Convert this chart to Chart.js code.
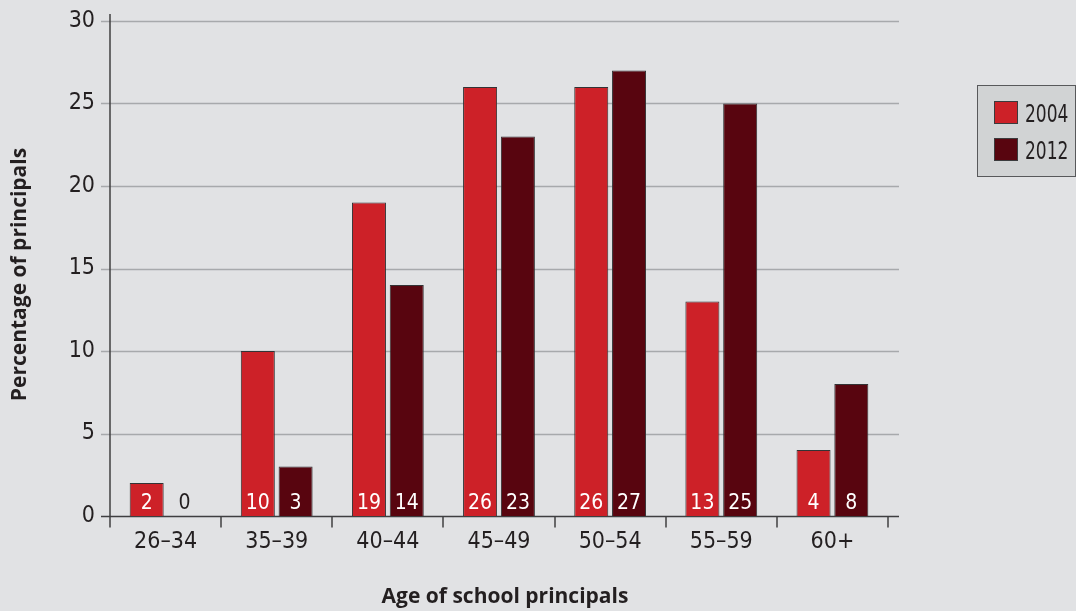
<!DOCTYPE html>
<html>
<head>
<meta charset="utf-8">
<script src="https://cdn.jsdelivr.net/npm/chart.js@4.4.0/dist/chart.umd.min.js"></script>
<style>
  html, body { margin: 0; padding: 0; background: #e1e2e4; }
  #wrap { width: 1076px; height: 611px; }
</style>
</head>
<body>
<div id="wrap"><canvas id="ageChart" width="1076" height="611"></canvas></div>
<script>
const ageGroups = ['26–34', '35–39', '40–44', '45–49', '50–54', '55–59', '60+'];
const share2004 = [2, 10, 19, 26, 26, 13, 4];
const share2012 = [0, 3, 14, 23, 27, 25, 8];
const yTicks = [0, 5, 10, 15, 20, 25, 30];
const seriesNames = ['2004', '2012'];

const RED = '#cd2128';
const MAROON = '#58050f';
const INK = '#231f20';
const NARROW = '"DejaVu Sans Condensed", "Liberation Sans Narrow", sans-serif';
const BOLD = '"Open Sans", "Noto Sans", sans-serif';

// axes, gridlines and tick marks drawn by hand so they can run past the plot area
const framePlugin = {
    id: 'frame',
    beforeDatasetsDraw(chart) {
        const ctx = chart.ctx;
        const area = chart.chartArea;
        const y = chart.scales.y;
        const catW = (area.right - area.left) / ageGroups.length;
        const rightEnd = area.right + 11;
        ctx.save();
        ctx.strokeStyle = '#a7a9ac';
        ctx.lineWidth = 1.5;
        yTicks.forEach(v => {
            if (v === 0) return;
            const py = Math.round(y.getPixelForValue(v)) + 0.5;
            ctx.beginPath();
            ctx.moveTo(area.left - 9, py);
            ctx.lineTo(rightEnd, py);
            ctx.stroke();
        });
        ctx.strokeStyle = '#3f3f41';
        ctx.lineWidth = 1.5;
        const base = Math.round(y.getPixelForValue(0)) + 0.5;
        ctx.beginPath();
        ctx.moveTo(area.left - 9, base);
        ctx.lineTo(rightEnd, base);
        ctx.stroke();
        ctx.beginPath();
        ctx.moveTo(area.left, area.top - 7);
        ctx.lineTo(area.left, base + 11);
        ctx.stroke();
        for (let i = 1; i <= ageGroups.length; i++) {
            const px = Math.round(area.left + i * catW);
            ctx.beginPath();
            ctx.moveTo(px, base);
            ctx.lineTo(px, base + 11);
            ctx.stroke();
        }
        ctx.restore();
    },
    afterDatasetsDraw(chart) {
        const ctx = chart.ctx;
        ctx.save();
        ctx.font = '21px ' + NARROW;
        ctx.textAlign = 'center';
        ctx.textBaseline = 'alphabetic';
        chart.data.datasets.forEach((ds, di) => {
            chart.getDatasetMeta(di).data.forEach((bar, i) => {
                const v = ds.data[i];
                ctx.fillStyle = v > 0 ? '#ffffff' : INK;
                ctx.fillText(String(v), bar.x, bar.base - 7);
            });
        });
        ctx.restore();
    },
    afterDraw(chart) {
        const ctx = chart.ctx;
        const area = chart.chartArea;
        ctx.save();
        ctx.fillStyle = INK;
        ctx.font = 'bold 21px ' + BOLD;
        ctx.textAlign = 'center';
        ctx.textBaseline = 'middle';
        ctx.fillText('Age of school principals', (area.left + area.right) / 2 + 6, 597);
        ctx.translate(20, (area.top + area.bottom) / 2 + 6);
        ctx.rotate(-Math.PI / 2);
        ctx.fillText('Percentage of principals', 0, 0);
        ctx.restore();

        // legend box
        ctx.save();
        ctx.fillStyle = '#d1d3d4';
        ctx.strokeStyle = '#58595b';
        ctx.lineWidth = 1;
        ctx.fillRect(977.5, 85.5, 98, 91);
        ctx.strokeRect(977.5, 85.5, 98, 91);
        const colors = [RED, MAROON];
        seriesNames.forEach((name, i) => {
            const top = 101 + i * 37;
            ctx.fillStyle = colors[i];
            ctx.fillRect(994.5, top + 0.5, 23, 22);
            ctx.strokeStyle = '#3b3b3d';
            ctx.strokeRect(994.5, top + 0.5, 23, 22);
            ctx.save();
            ctx.fillStyle = INK;
            ctx.font = '25px ' + NARROW;
            ctx.textAlign = 'left';
            ctx.textBaseline = 'alphabetic';
            ctx.translate(1025, top + 21);
            ctx.scale(0.76, 1);
            ctx.fillText(name, 0, 0);
            ctx.restore();
        });
        ctx.restore();
    }
};

new Chart(document.getElementById('ageChart'), {
    type: 'bar',
    data: {
        labels: ageGroups,
        datasets: [
            {
                label: seriesNames[0],
                data: share2004,
                backgroundColor: RED,
                borderColor: '#333335',
                borderWidth: 1
            },
            {
                label: seriesNames[1],
                data: share2012,
                backgroundColor: MAROON,
                borderColor: '#333335',
                borderWidth: 1
            }
        ]
    },
    options: {
        responsive: false,
        animation: false,
        devicePixelRatio: 1,
        layout: { padding: { left: 0, top: 21, right: 188, bottom: 0 } },
        datasets: { bar: { categoryPercentage: 0.68, barPercentage: 0.9 } },
        plugins: {
            legend: { display: false },
            tooltip: { enabled: false }
        },
        scales: {
            x: {
                grid: { display: false, drawTicks: false },
                border: { display: false },
                ticks: { color: INK, font: { family: NARROW, size: 23 }, padding: 12 },
                afterFit: s => { s.height = 95; s.paddingLeft = 0; s.paddingRight = 0; }
            },
            y: {
                min: 0,
                max: 30,
                grid: { display: false, drawTicks: false },
                border: { display: false },
                afterBuildTicks: s => { s.ticks = yTicks.map(v => ({ value: v })); },
                ticks: { color: INK, font: { family: NARROW, size: 23 }, padding: 15 },
                afterFit: s => { s.width = 110; s.paddingTop = 0; s.paddingBottom = 0; }
            }
        }
    },
    plugins: [framePlugin]
});
</script>
</body>
</html>
